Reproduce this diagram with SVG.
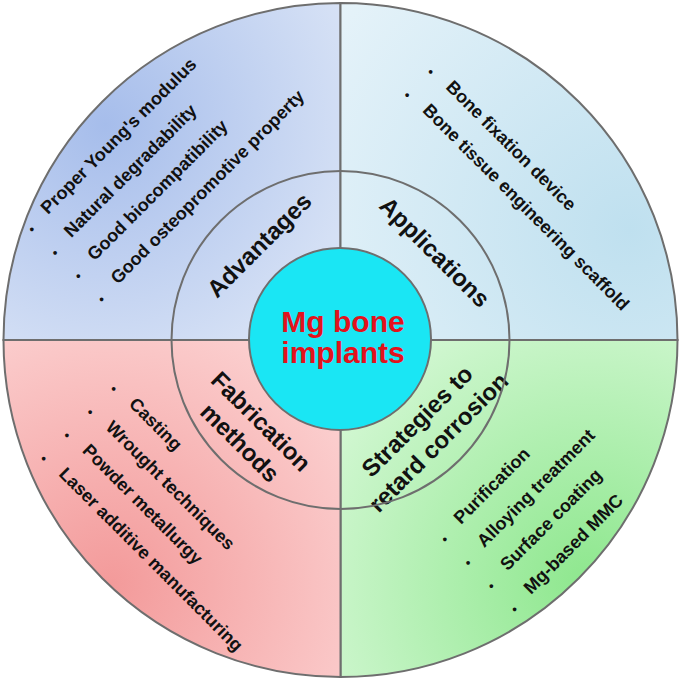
<svg xmlns="http://www.w3.org/2000/svg" width="685" height="685" viewBox="0 0 685 685">
<defs>
<radialGradient id="gTL" gradientUnits="userSpaceOnUse" cx="105" cy="125" r="330"><stop offset="0" stop-color="#a6bdeb"/><stop offset="1" stop-color="#e3ebf8"/></radialGradient>
<radialGradient id="gTR" gradientUnits="userSpaceOnUse" cx="630" cy="230" r="390"><stop offset="0" stop-color="#bfe0ef"/><stop offset="1" stop-color="#e8f4fa"/></radialGradient>
<radialGradient id="gBL" gradientUnits="userSpaceOnUse" cx="110" cy="585" r="340"><stop offset="0" stop-color="#f39a9a"/><stop offset="1" stop-color="#fddada"/></radialGradient>
<radialGradient id="gBR" gradientUnits="userSpaceOnUse" cx="590" cy="585" r="350"><stop offset="0" stop-color="#8de78d"/><stop offset="1" stop-color="#defade"/></radialGradient>
<style>
.sec{stroke:#6e6e6e;stroke-width:2}
.ln{stroke:#6e6e6e;stroke-width:2;fill:none}
text{font-family:"Liberation Sans",Arial,sans-serif;font-weight:bold;fill:#111}
.lab{font-size:24px;text-anchor:middle}
.it{font-size:18px}
.b{font-size:13px}
.ctr{font-size:30px;fill:#e3121c;text-anchor:middle}
</style>
</defs>

<g id="advantages">
<path class="sec" fill="url(#gTL)" d="M340.5,340 L3.5,340 A337,337 0 0 1 340.5,3 Z"/>
<text class="lab" transform="translate(265 251) rotate(-45)">Advantages</text>
<text class="it" transform="translate(48 215) rotate(-45)"><tspan class="b" x="-24" y="3">•</tspan><tspan x="0" y="0">Proper Young's modulus</tspan></text>
<text class="it" transform="translate(71.3 238.3) rotate(-45)"><tspan class="b" x="-24" y="3">•</tspan><tspan x="0" y="0">Natural degradability</tspan></text>
<text class="it" transform="translate(94.6 261.6) rotate(-45)"><tspan class="b" x="-24" y="3">•</tspan><tspan x="0" y="0">Good biocompatibility</tspan></text>
<text class="it" transform="translate(117.9 284.9) rotate(-45)"><tspan class="b" x="-24" y="3">•</tspan><tspan x="0" y="0">Good osteopromotive property</tspan></text>
</g>

<g id="applications">
<path class="sec" fill="url(#gTR)" d="M340.5,340 L340.5,3 A337,337 0 0 1 677.5,340 Z"/>
<text class="lab" transform="translate(429 258) rotate(45)">Applications</text>
<text class="it" transform="translate(445 88) rotate(45)"><tspan class="b" x="-24" y="3">•</tspan><tspan x="0" y="0">Bone fixation device</tspan></text>
<text class="it" transform="translate(421.7 111.3) rotate(45)"><tspan class="b" x="-24" y="3">•</tspan><tspan x="0" y="0">Bone tissue engineering scaffold</tspan></text>
</g>

<g id="strategies">
<path class="sec" fill="url(#gBR)" d="M340.5,340 L677.5,340 A337,337 0 0 1 340.5,677 Z"/>
<text class="lab" transform="translate(423 427) rotate(-45)">Strategies to</text>
<text class="lab" transform="translate(444.2 448.2) rotate(-45)">retard corrosion</text>
<text class="it" transform="translate(461 525) rotate(-45)"><tspan class="b" x="-24" y="3">•</tspan><tspan x="0" y="0">Purification</tspan></text>
<text class="it" transform="translate(484.3 548.3) rotate(-45)"><tspan class="b" x="-24" y="3">•</tspan><tspan x="0" y="0">Alloying treatment</tspan></text>
<text class="it" transform="translate(507.6 571.6) rotate(-45)"><tspan class="b" x="-24" y="3">•</tspan><tspan x="0" y="0">Surface coating</tspan></text>
<text class="it" transform="translate(530.9 594.9) rotate(-45)"><tspan class="b" x="-24" y="3">•</tspan><tspan x="0" y="0">Mg-based MMC</tspan></text>
</g>

<g id="fabrication">
<path class="sec" fill="url(#gBL)" d="M340.5,340 L340.5,677 A337,337 0 0 1 3.5,340 Z"/>
<text class="lab" transform="translate(255.2 427.3) rotate(45)">Fabrication</text>
<text class="lab" transform="translate(234 448.5) rotate(45)">methods</text>
<text class="it" transform="translate(128 405) rotate(45)"><tspan class="b" x="-24" y="3">•</tspan><tspan x="0" y="0">Casting</tspan></text>
<text class="it" transform="translate(104.7 428.3) rotate(45)"><tspan class="b" x="-24" y="3">•</tspan><tspan x="0" y="0">Wrought techniques</tspan></text>
<text class="it" transform="translate(81.4 451.6) rotate(45)"><tspan class="b" x="-24" y="3">•</tspan><tspan x="0" y="0">Powder metallurgy</tspan></text>
<text class="it" transform="translate(58.1 474.9) rotate(45)"><tspan class="b" x="-24" y="3">•</tspan><tspan x="0" y="0">Laser additive manufacturing</tspan></text>
</g>

<g id="dividers">
<circle class="ln" cx="340.5" cy="340" r="169"/>
</g>

<g id="center">
<circle cx="340" cy="339" r="91" fill="#1ae6f4" stroke="#6e6e6e" stroke-width="2"/>
<text class="ctr" x="343" y="332">Mg bone</text>
<text class="ctr" x="343" y="363">implants</text>
</g>
</svg>
